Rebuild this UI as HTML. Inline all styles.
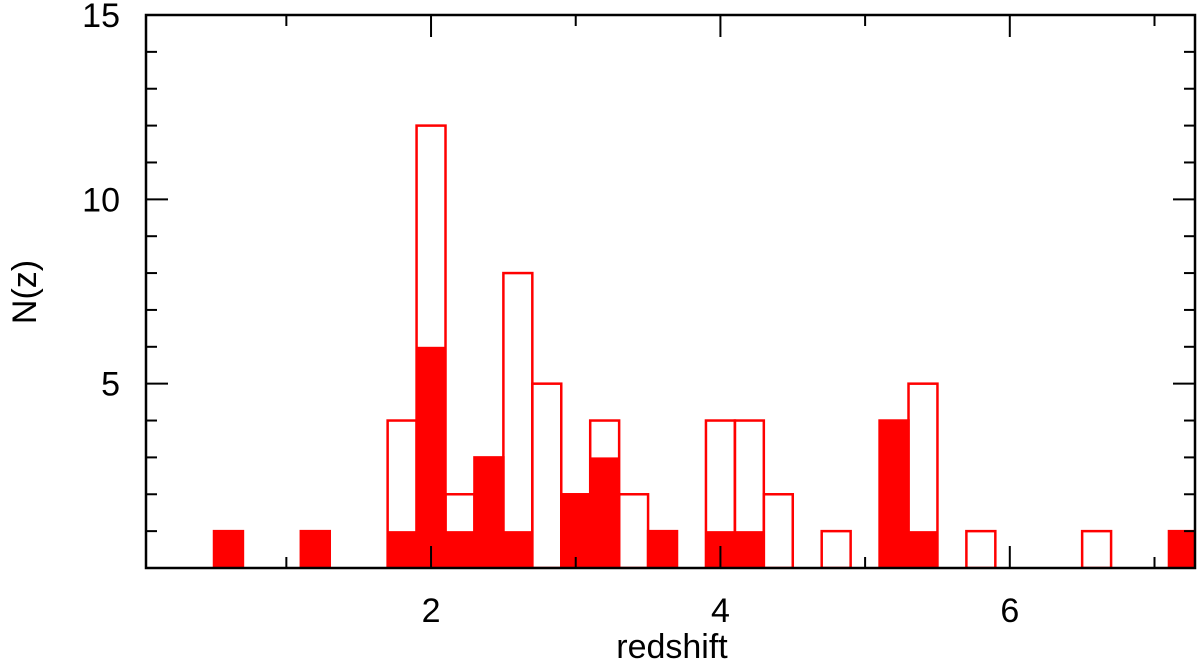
<!DOCTYPE html>
<html><head><meta charset="utf-8"><style>
html,body{margin:0;padding:0;background:#fff;}
svg{display:block;font-family:"Liberation Sans",sans-serif;}
</style></head><body>
<svg id="chart" width="1200" height="663" viewBox="0 0 1200 663">
<defs><clipPath id="pc"><rect x="146" y="15" width="1049" height="553"/></clipPath></defs>
<g id="bars" clip-path="url(#pc)"></g>
<g id="axes"></g>
</svg>
<script>
const binStarts=[0.5,1.1,1.7,1.9,2.1,2.3,2.5,2.7,2.9,3.1,3.3,3.5,3.9,4.1,4.3,4.7,5.1,5.3,5.7,6.5,7.1];
const totalCounts=[1,1,4,12,2,3,8,5,2,4,2,1,4,4,2,1,4,5,1,1,1];
const subsetCounts=[1,1,1,6,1,3,1,0,2,3,0,1,1,1,0,0,4,1,0,0,1];
const binWidth=0.2;
const xTicks=[2,4,6];
const yTicks=[5,10,15];
const NS="http://www.w3.org/2000/svg";
const L=146,R=1195,T=15,B=568;
const xMin=0.03,xMax=7.28,yMax=15;
const X=v=>L+(v-xMin)/(xMax-xMin)*(R-L);
const Y=v=>B-v/yMax*(B-T);
function mk(tag,attrs,parent){const e=document.createElementNS(NS,tag);for(const k in attrs)e.setAttribute(k,attrs[k]);parent.appendChild(e);return e;}
const bars=document.getElementById('bars'),axes=document.getElementById('axes');
binStarts.forEach((s,i)=>{
  if(subsetCounts[i]>0){
    const r=mk('rect',{x:X(s),y:Y(subsetCounts[i]),width:X(s+binWidth)-X(s),height:B-Y(subsetCounts[i]),fill:'#ff0000'},bars);
    
    
  }
});
binStarts.forEach((s,i)=>{
  const r=mk('rect',{x:X(s),y:Y(totalCounts[i]),width:X(s+binWidth)-X(s),height:B-Y(totalCounts[i]),fill:'none',stroke:'#ff0000','stroke-width':2.5},bars);
  
  
});
const frame=mk('rect',{x:L,y:T,width:R-L,height:B-T,fill:'none',stroke:'#000','stroke-width':2.5},axes);


for(let v=1;v<=7;v++){const big=v%2==0,len=big?22:11;
  mk('line',{x1:X(v),x2:X(v),y1:B,y2:B-len,stroke:'#000','stroke-width':2},axes);
  mk('line',{x1:X(v),x2:X(v),y1:T,y2:T+len,stroke:'#000','stroke-width':2},axes);}
for(let v=1;v<15;v++){const big=v%5==0,len=big?22:11;
  mk('line',{x1:L,x2:L+len,y1:Y(v),y2:Y(v),stroke:'#000','stroke-width':2},axes);
  mk('line',{x1:R,x2:R-len,y1:Y(v),y2:Y(v),stroke:'#000','stroke-width':2},axes);}
xTicks.forEach(v=>{const t=mk('text',{x:X(v),y:622,'text-anchor':'middle','font-size':34},axes);t.textContent=v;
  
  });
yTicks.forEach(v=>{const t=mk('text',{x:120,y:Y(v)+12,'text-anchor':'end','font-size':34},axes);t.textContent=v;
  
  });
const xt=mk('text',{x:672,y:658,'text-anchor':'middle','font-size':34},axes);xt.textContent='redshift';


const yt=mk('text',{x:36,y:292,'text-anchor':'middle','font-size':34,transform:'rotate(-90 36 292)'},axes);yt.textContent='N(z)';


</script>
</body></html>
